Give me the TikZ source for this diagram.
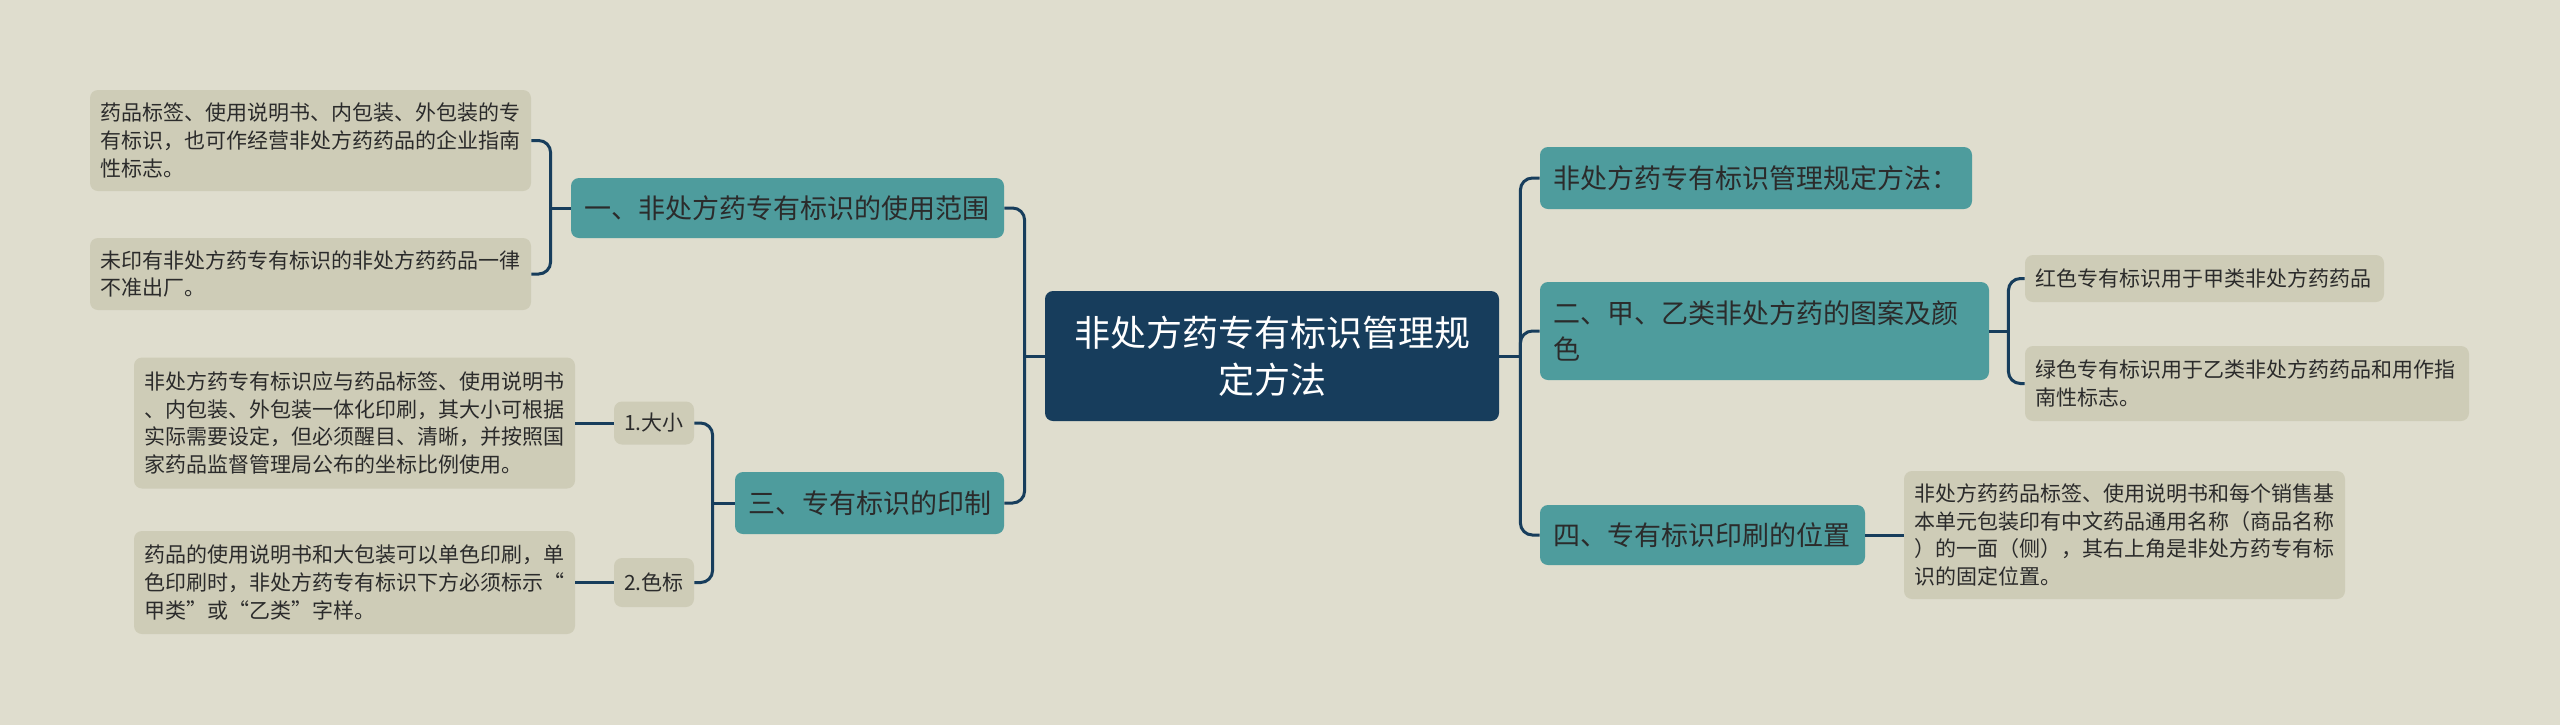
\documentclass[tikz,border=0pt]{standalone}
\usepackage{fontspec}
\setmainfont{Noto Sans CJK SC}
\definecolor{bgcol}{HTML}{DFDDCE}
\definecolor{navy}{HTML}{173D5C}
\definecolor{tealbox}{HTML}{4E9C9D}
\definecolor{sand}{HTML}{CECCB7}
\definecolor{ink}{HTML}{2B2B2B}
\tikzset{
  root/.style={fill=navy, text=white, rounded corners=4pt, align=center,
    font=\fontsize{18}{23.5}\selectfont, text width=200pt,
    minimum width=227pt, minimum height=65pt},
  topic/.style={fill=tealbox, text=ink, rounded corners=4pt, align=left,
    font=\fontsize{13.5}{18}\selectfont, inner xsep=6.5pt},
  leaf/.style={fill=sand, text=ink, rounded corners=4pt, align=left,
    font=\fontsize{10.5}{13.9}\selectfont, inner xsep=5pt},
  link/.style={draw=navy, line width=1.5pt, rounded corners=6pt},
}
\begin{document}
\begin{tikzpicture}[x=0.5pt, y=-0.5pt]
  \fill[bgcol] (0,0) rectangle (2560,725);
  \useasboundingbox (0,0) rectangle (2560,725);

  \node[root] (c) at (1272,356) {非处方药专有标识管理规\\定方法};

  % left side
  \node[topic, minimum width=216.5pt, text width=203.5pt, minimum height=30pt] (b1) at (787.5,208) {一、非处方药专有标识的使用范围};
  \node[leaf, minimum width=220.5pt, text width=210.5pt, minimum height=50.5pt] (l1a) at (310.5,140.5) {药品标签、使用说明书、内包装、外包装的专\\有标识，也可作经营非处方药药品的企业指南\\性标志。};
  \node[leaf, minimum width=220.5pt, text width=210.5pt, minimum height=36pt] (l1b) at (310.5,274) {未印有非处方药专有标识的非处方药药品一律\\不准出厂。};

  \node[topic, minimum width=134.5pt, text width=121.5pt, minimum height=31pt] (b3) at (869.5,503) {三、专有标识的印制};
  \node[leaf, minimum width=40pt, minimum height=21.5pt] (s1) at (654,423) {1.大小};
  \node[leaf, minimum width=40pt, minimum height=24.5pt] (s2) at (654,582.5) {2.色标};
  \node[leaf, minimum width=220.5pt, text width=210.5pt, minimum height=65.5pt] (l3a) at (354.5,423) {非处方药专有标识应与药品标签、使用说明书\\、内包装、外包装一体化印刷，其大小可根据\\实际需要设定，但必须醒目、清晰，并按照国\\家药品监督管理局公布的坐标比例使用。};
  \node[leaf, minimum width=220.5pt, text width=210.5pt, minimum height=51.5pt] (l3b) at (354.5,582.5) {药品的使用说明书和大包装可以单色印刷，单\\色印刷时，非处方药专有标识下方必须标示“\\甲类”或“乙类”字样。};

  % right side
  \node[topic, minimum width=216pt, text width=203pt, minimum height=31pt] (r1) at (1756,178) {非处方药专有标识管理规定方法：};
  \node[topic, minimum width=224.5pt, text width=211.5pt, minimum height=49pt] (r2) at (1764.5,331) {二、甲、乙类非处方药的图案及颜\\色};
  \node[leaf, minimum width=179.5pt, text width=169.5pt, minimum height=23.5pt] (r2a) at (2204.5,278.5) {红色专有标识用于甲类非处方药药品};
  \node[leaf, minimum width=222pt, text width=212pt, minimum height=37.5pt] (r2b) at (2247,383.5) {绿色专有标识用于乙类非处方药药品和用作指\\南性标志。};
  \node[topic, minimum width=162.5pt, text width=149.5pt, minimum height=30pt] (r4) at (1702.5,535) {四、专有标识印刷的位置};
  \node[leaf, minimum width=220.5pt, text width=210.5pt, minimum height=64pt] (r4a) at (2124.5,535) {非处方药药品标签、使用说明书和每个销售基\\本单元包装印有中文药品通用名称（商品名称\\）的一面（侧），其右上角是非处方药专有标\\识的固定位置。};

  % connectors
  \coordinate (cl) at ([xshift=-10pt]c.west);
  \coordinate (cr) at ([xshift=10.5pt]c.east);
  \draw[link] (c.west) -- (cl);
  \draw[link] (c.east) -- (cr);
  \foreach \n in {b1,b3} \draw[link] (cl) |- (\n.east);
  \foreach \n in {r1,r2,r4} \draw[link] (cr) |- (\n.west);

  \coordinate (b1l) at ([xshift=-10pt]b1.west);
  \draw[link] (b1.west) -- (b1l);
  \foreach \n in {l1a,l1b} \draw[link] (b1l) |- (\n.east);

  \coordinate (b3l) at ([xshift=-11pt]b3.west);
  \draw[link] (b3.west) -- (b3l);
  \foreach \n in {s1,s2} \draw[link] (b3l) |- (\n.east);
  \draw[link] (s1.west) -- (l3a.east);
  \draw[link] (s2.west) -- (l3b.east);

  \coordinate (r2r) at ([xshift=9.5pt]r2.east);
  \draw[link] (r2.east) -- (r2r);
  \foreach \n in {r2a,r2b} \draw[link] (r2r) |- (\n.west);
  \draw[link] (r4.east) -- (r4a.west);
\end{tikzpicture}
\end{document}
